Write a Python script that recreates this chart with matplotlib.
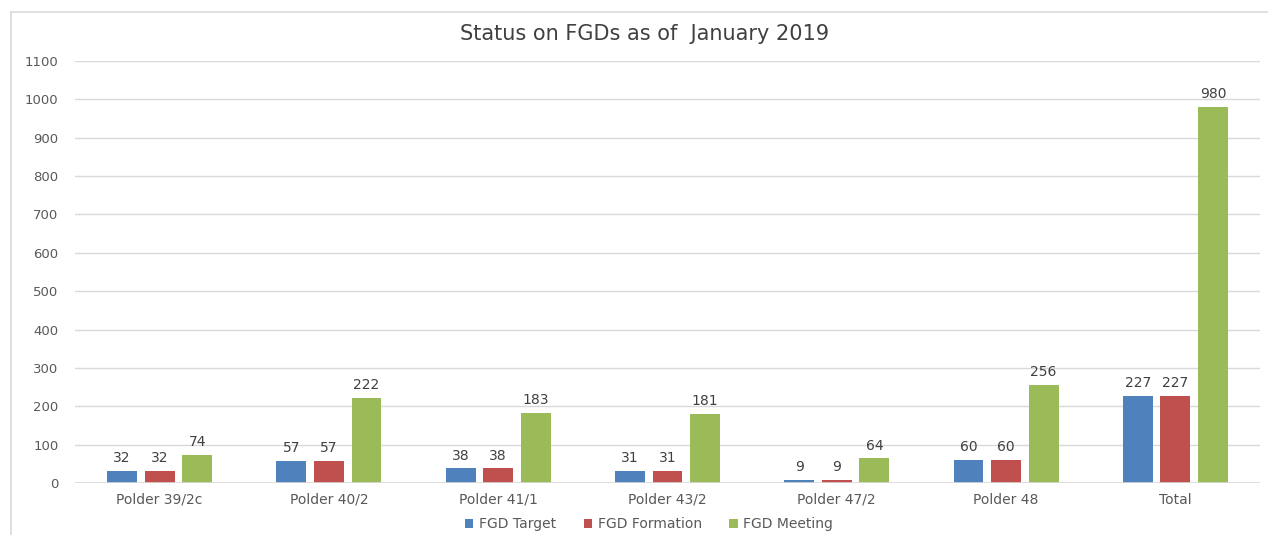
import matplotlib.pyplot as plt
import numpy as np
from matplotlib.lines import Line2D

categories = ['Polder 39/2c', 'Polder 40/2', 'Polder 41/1', 'Polder 43/2',
              'Polder 47/2', 'Polder 48', 'Total']
fgd_target = [32, 57, 38, 31, 9, 60, 227]
fgd_formation = [32, 57, 38, 31, 9, 60, 227]
fgd_meeting = [74, 222, 183, 181, 64, 256, 980]
series_names = ['FGD Target', 'FGD Formation', 'FGD Meeting']
colors = ['#4F81BD', '#C0504D', '#9BBB59']

plt.rcParams['font.family'] = ['DejaVu Sans']

fig = plt.figure(figsize=(12.68, 5.35), dpi=100)
ax = fig.add_axes([75 / 1268, 1 - 483 / 535, (1260 - 75) / 1268, (483 - 61) / 535])

x = np.arange(len(categories))
width = 0.177
step = 0.222
text_col = '#595959'

for i, (vals, name, col) in enumerate(zip([fgd_target, fgd_formation, fgd_meeting],
                                          series_names, colors)):
    pos = x + (i - 1) * step
    bars = ax.bar(pos, vals, width, color=col, label=name, zorder=3)
    for b, v in zip(bars, vals):
        ax.text(b.get_x() + b.get_width() / 2, v + 15, str(v), ha='center',
                va='bottom', fontsize=10, color='#404040')

ax.set_xlim(-0.5, len(categories) - 0.5)
ax.set_ylim(0, 1100)
ax.set_yticks(np.arange(0, 1101, 100))
ax.set_xticks(x)
ax.set_xticklabels(categories)
ax.tick_params(axis='both', length=0, colors=text_col)
ax.tick_params(axis='y', pad=12, labelsize=9.5)
ax.tick_params(axis='x', pad=7, labelsize=10)
ax.grid(axis='y', color='#d9d9d9', linewidth=1, zorder=0)
ax.axhline(0, color='#d9d9d9', linewidth=1.2, zorder=4)
for s in ax.spines.values():
    s.set_visible(False)

fig.text(645 / 1268, 1 - 34 / 535, 'Status on FGDs as of  January 2019', ha='center',
         va='center', fontsize=15, color='#404040')

ax.legend(loc='center', bbox_to_anchor=((649 - 75) / 1185, -0.098), ncol=3, frameon=False,
          fontsize=10, handlelength=0.6, handleheight=0.6, columnspacing=2.0,
          handletextpad=0.4, labelcolor=text_col)

fig.add_artist(Line2D([11 / 1268, 11 / 1268], [0, 1 - 12 / 535], color='#d9d9d9', lw=1.2))
fig.add_artist(Line2D([11 / 1268, 1], [1 - 12 / 535, 1 - 12 / 535], color='#d9d9d9', lw=1.2))

fig.savefig('out.png', dpi=100)
